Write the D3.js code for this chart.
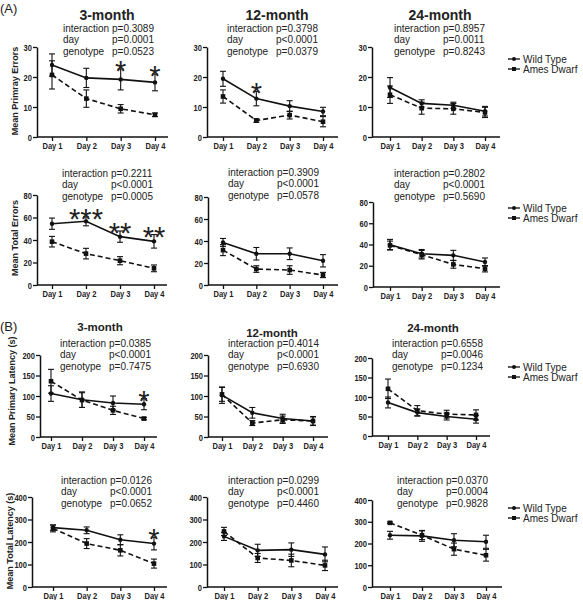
<!DOCTYPE html>
<html><head><meta charset="utf-8">
<script src="https://cdn.jsdelivr.net/npm/d3@7/dist/d3.min.js"></script>
<style>body{margin:0;background:#fff}svg{display:block}text{font-family:"Liberation Sans",Arial,sans-serif;fill:#222}</style>
</head><body>
<svg id="c" width="583" height="600"></svg>
<script>
const days = ["Day 1","Day 2","Day 3","Day 4"];
const panelTitles = ["3-month","12-month","24-month"];
const yLabels = ["Mean Primray Errors","Mean Total Errors","Mean Primary Latency (s)","Mean Total Latency (s)"];
const yTicks = [[0,10,20,30],[0,20,40,60,80],[0,50,100,150,200],[0,100,200,300,400]];
const seriesNames = ["Wild Type","Ames Dwarf"];

// Row 1: primary errors (3, 12, 24 month)
const wtPrimaryErrors    = [[24.0,19.7,19.2,18.2],[19.4,12.8,10.3,8.5],[16.5,11.2,10.6,8.6]];
const wtPrimaryErrorsSEM = [[3.7,3.2,3.5,2.8],[2.5,2.4,1.8,1.4],[3.3,1.2,1.0,1.6]];
const adPrimaryErrors    = [[20.7,12.8,9.4,7.4],[13.5,5.5,7.3,5.1],[14.1,9.6,9.4,8.2]];
const adPrimaryErrorsSEM = [[4.7,2.9,1.4,0.6],[2.2,0.6,1.3,1.7],[2.9,2.0,1.8,1.7]];
// Row 2: total errors
const wtTotalErrors    = [[54.5,56.6,43.0,38.8],[38.7,28.4,28.4,22.0],[39.8,31.3,29.8,23.5]];
const wtTotalErrorsSEM = [[5.0,4.0,5.0,6.0],[3.6,5.7,5.3,5.6],[5.0,4.0,4.7,3.8]];
const adTotalErrors    = [[38.5,27.9,21.6,14.8],[31.7,14.5,13.6,9.1],[39.2,30.4,21.3,17.2]];
const adTotalErrorsSEM = [[4.7,4.7,3.6,3.0],[5.0,3.0,3.9,2.4],[4.0,4.0,3.6,3.0]];
// Row 3: primary latency
const wtPrimaryLatency    = [[106,91,83,80],[102,59,45,39],[86,60,50,43]];
const wtPrimaryLatencySEM = [[19,19,17,13.5],[20,13,10.5,11],[14,9,9,10]];
const adPrimaryLatency    = [[136,90,65,45],[104,34,42,39],[121,65,56,54]];
const adPrimaryLatencySEM = [[29,18,10,3],[17,6,9,10],[25,13,10,13]];
// Row 4: total latency
const wtTotalLatency    = [[264,252,210,193],[225,163,166,145],[238,235,215,208]];
const wtTotalLatencySEM = [[12,15,22,28],[18,27,30,33],[18,25,30,30]];
const adTotalLatency    = [[260,193,163,104],[247,129,118,96],[295,238,174,146]];
const adTotalLatencySEM = [[15,22,25,20],[18,20,28,23],[4,20,28,27]];

const interactionP = [["p=0.3089","p=0.3798","p=0.8957"],["p=0.2211","p=0.3909","p=0.2802"],["p=0.0385","p=0.4014","p=0.6558"],["p=0.0126","p=0.0299","p=0.0370"]];
const dayP = [["p=0.0001","p<0.0001","p=0.0011"],["p<0.0001","p<0.0001","p<0.0001"],["p<0.0001","p<0.0001","p=0.0046"],["p<0.0001","p<0.0001","p=0.0004"]];
const genotypeP = [["p=0.0523","p=0.0379","p=0.8243"],["p=0.0005","p=0.0578","p=0.5690"],["p=0.7475","p=0.6930","p=0.1234"],["p=0.0652","p=0.4460","p=0.9828"]];
// significance marks: [row, col, dayIndex, label]
const sigMarks = [[0,0,2,"*"],[0,0,3,"*"],[0,1,1,"*"],[1,0,1,"***"],[1,0,2,"**"],[1,0,3,"**"],[2,0,3,"*"],[3,0,3,"*"]];

const rows = [
  {wt:wtPrimaryErrors, wtE:wtPrimaryErrorsSEM, ad:adPrimaryErrors, adE:adPrimaryErrorsSEM},
  {wt:wtTotalErrors, wtE:wtTotalErrorsSEM, ad:adTotalErrors, adE:adTotalErrorsSEM},
  {wt:wtPrimaryLatency, wtE:wtPrimaryLatencySEM, ad:adPrimaryLatency, adE:adPrimaryLatencySEM},
  {wt:wtTotalLatency, wtE:wtTotalLatencySEM, ad:adTotalLatency, adE:adTotalLatencySEM}
];

// layout (pixels)
const layout = [
  [{ax:37,top:47,bot:137,d1:52,d4:155,xe:168},{ax:207,top:47,bot:137,d1:223,d4:323,xe:338},{ax:372,top:47,bot:137,d1:390,d4:485,xe:500}],
  [{ax:37,top:195,bot:285,d1:52,d4:154,xe:167},{ax:208,top:197,bot:285,d1:223,d4:323,xe:338},{ax:373,top:202,bot:287,d1:390,d4:485,xe:500}],
  [{ax:40,top:355,bot:437,d1:51,d4:144,xe:157},{ax:208,top:355,bot:437,d1:222,d4:313,xe:328},{ax:372,top:358,bot:436,d1:388,d4:476,xe:490}],
  [{ax:32,top:497,bot:587,d1:53,d4:154,xe:167},{ax:207,top:497,bot:587,d1:224,d4:325,xe:338},{ax:372,top:500,bot:587,d1:390,d4:486,xe:502}]
];
const statPos = [
  [{x:63,y:28},{x:227,y:28},{x:394,y:28}],
  [{x:62,y:173},{x:228,y:172},{x:394,y:173}],
  [{x:60,y:343},{x:228,y:343},{x:392,y:343}],
  [{x:61,y:480},{x:228,y:480},{x:397,y:480}]
];
const titlePos = [[{x:107,y:20,s:14},{x:277,y:20,s:14},{x:440,y:20,s:14}],[],[{x:100,y:331,s:11.5},{x:272,y:337,s:11.5},{x:433,y:332,s:11.5}],[]];
const yLabelPos = [{x:15,y:91},{x:15,y:238},{x:12,y:391},{x:10,y:541}];
const legendPos = [{x:508,y:59},{x:508,y:208},{x:508,y:367},{x:508,y:508}];

function condense(sel, f) {
  sel.each(function() {
    const w = this.getComputedTextLength();
    d3.select(this).attr("textLength", w * f).attr("lengthAdjust", "spacingAndGlyphs");
  });
}

const svg = d3.select("#c");
svg.append("text").attr("x",0).attr("y",13).attr("font-size",13).text("(A)");
svg.append("text").attr("x",0).attr("y",331).attr("font-size",13).text("(B)");

rows.forEach((r, ri) => {
  layout[ri].forEach((L, ci) => {
    const g = svg.append("g");
    const x = d3.scalePoint().domain(days).range([L.d1, L.d4]);
    const dom = yTicks[ri];
    const y = d3.scaleLinear().domain([0, dom[dom.length-1]]).range([L.bot, L.top]);
    const ya = g.append("g").attr("transform",`translate(${L.ax},0)`)
      .call(d3.axisLeft(y).tickValues(dom).tickSize(4).tickSizeOuter(0).tickPadding(1));
    const xa = g.append("g").attr("transform",`translate(0,${L.bot})`)
      .call(d3.axisBottom(x).tickSize(4).tickSizeOuter(0).tickPadding(1));
    xa.select(".domain").remove();
    g.append("line").attr("x1",L.ax).attr("x2",L.xe).attr("y1",L.bot).attr("y2",L.bot).attr("stroke","#111").attr("stroke-width",1.5);
    [ya, xa].forEach(a => {
      a.selectAll("path.domain").attr("stroke","#111").attr("stroke-width",1.5);
      a.selectAll(".tick line").attr("stroke","#111").attr("stroke-width",1.3);
      a.selectAll(".tick text").attr("font-size",9.8).attr("font-weight","bold").attr("fill","#222")
        .style("font-family",'"Liberation Sans",Arial,sans-serif');
      condense(a.selectAll(".tick text"), 0.77);
    });
    const series = [
      {m:r.ad[ci], e:r.adE[ci], dash:"5,3", shape:"square"},
      {m:r.wt[ci], e:r.wtE[ci], dash:null, shape:"circle"}
    ];
    series.forEach(s => {
      const pts = days.map((d,i)=>({d, v:s.m[i], e:s.e[i]}));
      pts.forEach(p => {
        const cx = x(p.d), y1 = y(p.v + p.e), y2 = y(Math.max(0,p.v - p.e));
        g.append("line").attr("x1",cx).attr("x2",cx).attr("y1",y1).attr("y2",y2).attr("stroke","#111").attr("stroke-width",1.1);
        [y1,y2].forEach(yy => g.append("line").attr("x1",cx-3).attr("x2",cx+3).attr("y1",yy).attr("y2",yy).attr("stroke","#111").attr("stroke-width",1.1));
      });
      g.append("path").datum(pts)
        .attr("d", d3.line().x(p=>x(p.d)).y(p=>y(p.v)))
        .attr("fill","none").attr("stroke","#111").attr("stroke-width",1.6)
        .attr("stroke-dasharray", s.dash);
      pts.forEach(p => {
        if (s.shape === "circle") g.append("circle").attr("cx",x(p.d)).attr("cy",y(p.v)).attr("r",2.2).attr("fill","#111");
        else g.append("rect").attr("x",x(p.d)-2.3).attr("y",y(p.v)-2.3).attr("width",4.6).attr("height",4.6).attr("fill","#111");
      });
    });
    const S = statPos[ri][ci];
    const lines = [["interaction", interactionP[ri][ci]],["day", dayP[ri][ci]],["genotype", genotypeP[ri][ci]]];
    lines.forEach((ln, k) => {
      g.append("text").attr("x",S.x).attr("y",S.y + k*11.8 + 3.5).attr("font-size",10).text(ln[0]);
      g.append("text").attr("x",S.x + 49).attr("y",S.y + k*11.8 + 3.5).attr("font-size",10).text(ln[1]);
    });
    const T = titlePos[ri][ci];
    if (T) g.append("text").attr("x",T.x).attr("y",T.y).attr("text-anchor","middle").attr("font-size",T.s).attr("font-weight","bold").text(panelTitles[ci]);
    sigMarks.filter(m=>m[0]===ri && m[1]===ci).forEach(m => {
      const d = days[m[2]];
      const top = y(r.wt[ci][m[2]] + r.wtE[ci][m[2]]);
      g.append("text").attr("x",x(d)).attr("y",top + 12).attr("text-anchor","middle").attr("font-size",29).text(m[3]);
    });
  });
  const YL = yLabelPos[ri];
  svg.append("text").attr("transform",`translate(${YL.x},${YL.y}) rotate(-90)`).attr("text-anchor","middle")
    .attr("dominant-baseline","central").attr("font-size",9).attr("font-weight","bold").text(yLabels[ri]);
  const LG = legendPos[ri];
  seriesNames.forEach((n, k) => {
    const yy = LG.y + k*10;
    svg.append("line").attr("x1",LG.x).attr("x2",LG.x+12).attr("y1",yy).attr("y2",yy).attr("stroke","#111").attr("stroke-width",1.3);
    if (k===0) svg.append("circle").attr("cx",LG.x+6).attr("cy",yy).attr("r",2).attr("fill","#111");
    else svg.append("rect").attr("x",LG.x+4).attr("y",yy-2).attr("width",4).attr("height",4).attr("fill","#111");
    svg.append("text").attr("x",LG.x+15).attr("y",yy+3.5).attr("font-size",10).text(n);
  });
});
</script>
</body></html>
